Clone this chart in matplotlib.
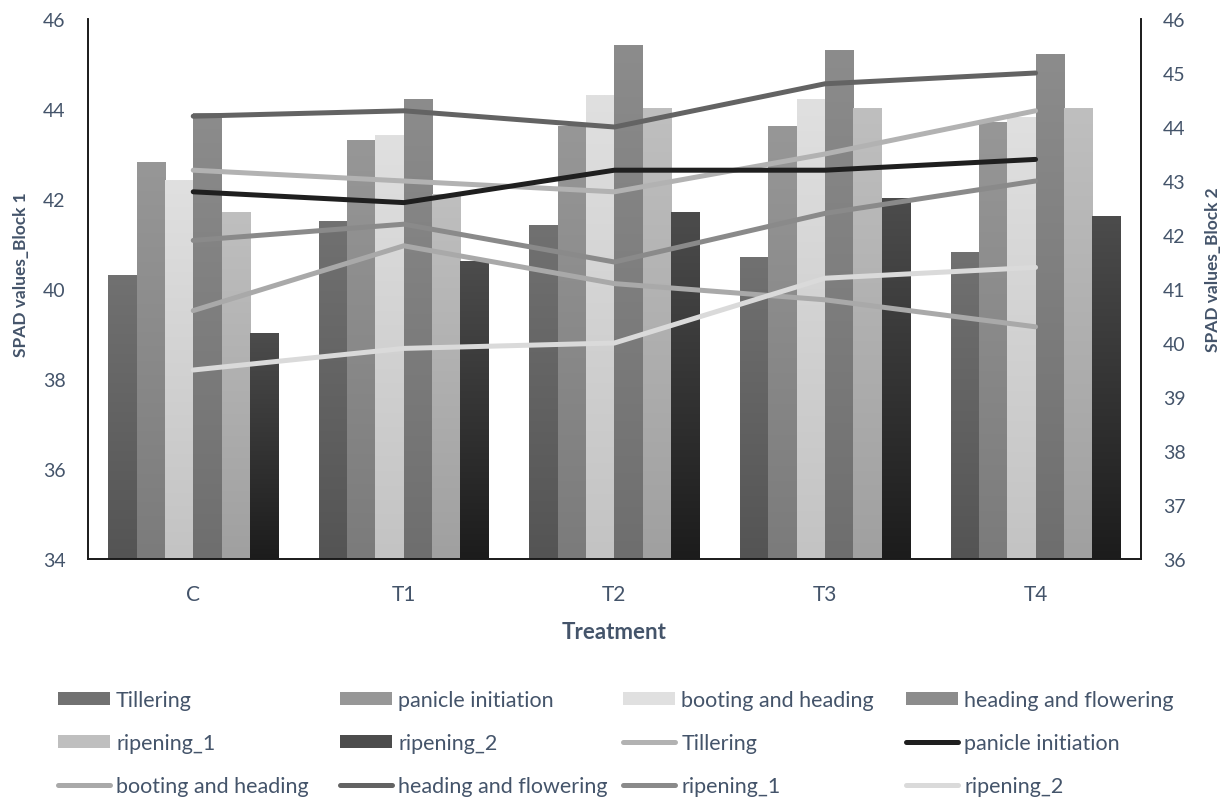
import numpy as np
import matplotlib.pyplot as plt
from matplotlib.colors import LinearSegmentedColormap
from matplotlib.patches import Patch
from matplotlib.lines import Line2D

plt.rcParams['font.family'] = ['Lato', 'DejaVu Sans']

treatments = ['C', 'T1', 'T2', 'T3', 'T4']
stages = ['Tillering', 'panicle initiation', 'booting and heading',
          'heading and flowering', 'ripening_1', 'ripening_2']

# Block 1 (bars, left axis)
tillering_b1 = [40.3, 41.5, 41.4, 40.7, 40.8]
panicle_b1 = [42.8, 43.3, 43.6, 43.6, 43.7]
booting_b1 = [42.4, 43.4, 44.3, 44.2, 43.8]
heading_b1 = [43.9, 44.2, 45.4, 45.3, 45.2]
ripening1_b1 = [41.7, 42.1, 44.0, 44.0, 44.0]
ripening2_b1 = [39.0, 40.6, 41.7, 42.0, 41.6]

# Block 2 (lines, right axis)
tillering_b2 = [43.2, 43.0, 42.8, 43.5, 44.3]
panicle_b2 = [42.8, 42.6, 43.2, 43.2, 43.4]
booting_b2 = [40.6, 41.8, 41.1, 40.8, 40.3]
heading_b2 = [44.2, 44.3, 44.0, 44.8, 45.0]
ripening1_b2 = [41.9, 42.2, 41.5, 42.4, 43.0]
ripening2_b2 = [39.5, 39.9, 40.0, 41.2, 41.4]

block1 = [tillering_b1, panicle_b1, booting_b1, heading_b1, ripening1_b1, ripening2_b1]
block2 = [tillering_b2, panicle_b2, booting_b2, heading_b2, ripening1_b2, ripening2_b2]

# gradient (top, bottom) for each bar series
bar_grad = [('#717171', '#545454'), ('#979797', '#7b7b7b'), ('#e0e0e0', '#c3c3c3'),
            ('#8c8c8c', '#6e6e6e'), ('#bfbfbf', '#a0a0a0'), ('#4c4c4c', '#1c1c1c')]
line_cols = ['#b2b2b2', '#1f1f1f', '#a9a9a9', '#636363', '#8a8a8a', '#dadada']

txt = '#44546a'
y1_lim = (34, 46)
y2_lim = (36, 46)

fig = plt.figure(figsize=(12.3, 8.03), dpi=100)
ax = fig.add_axes([0.0715, 0.3026, 0.856, 0.6725])
ax2 = ax.twinx()

x = np.arange(len(treatments))
bw = 0.1345
for i, vals in enumerate(block1):
    pos = x + (i - 2.5) * bw
    bars = ax.bar(pos, vals, bw, bottom=0, color=bar_grad[i][1], zorder=1)
    cmap = LinearSegmentedColormap.from_list('g%d' % i, [bar_grad[i][1], bar_grad[i][0]])
    for r in bars:
        x0, w, top = r.get_x(), r.get_width(), r.get_height()
        grad = np.linspace(0, 1, 256).reshape(-1, 1)
        ax.imshow(grad, cmap=cmap, origin='lower', aspect='auto',
                  extent=[x0, x0 + w, y1_lim[0], top], zorder=2)

for i, vals in enumerate(block2):
    ax2.plot(x, vals, color=line_cols[i], lw=3.6, solid_capstyle='round',
             solid_joinstyle='miter')

ax.set_xlim(-0.5, len(treatments) - 0.5)
ax.set_ylim(*y1_lim)
ax2.set_ylim(*y2_lim)
ax.set_yticks(np.arange(34, 47, 2))
ax2.set_yticks(np.arange(36, 47, 1))
ax.set_xticks(x)
ax.set_xticklabels(treatments)

for a in (ax, ax2):
    a.tick_params(length=0, labelsize=14, colors=txt)
    a.spines['top'].set_visible(False)
    for s in ('left', 'right', 'bottom'):
        a.spines[s].set_color('#1a1a1a')
        a.spines[s].set_linewidth(1.2)
ax.tick_params(axis='x', pad=18, labelsize=15)
ax.tick_params(axis='y', pad=16)
ax2.tick_params(axis='y', pad=16)

ax.set_xlabel('Treatment', fontsize=16, fontweight='bold', color=txt, labelpad=12)
ax.set_ylabel('SPAD values_Block 1', fontsize=12.5, fontweight='bold', color=txt)
ax2.set_ylabel('SPAD values_Block 2', fontsize=12.5, fontweight='bold', color=txt)
ax.yaxis.set_label_coords(-0.056, 0.528)
ax2.yaxis.set_label_coords(1.0608, 0.537)

# legend: 12 entries laid out row by row in 4 columns
handles = [Patch(facecolor=bar_grad[i][0], label=stages[i]) for i in range(6)]
handles += [Line2D([0], [0], color=line_cols[i], lw=3.6, solid_capstyle='round',
                   label=stages[i]) for i in range(6)]
col_x = [58, 340, 623, 906]
for c in range(4):
    hs = [handles[r * 4 + c] for r in range(3)]
    leg = fig.legend(handles=hs, loc='upper left',
                     bbox_to_anchor=(col_x[c] / 1230, 1 - 691 / 803),
                     frameon=False, fontsize=15.5, handlelength=2.42, handleheight=0.56,
                     handletextpad=0.28, labelspacing=1.08, borderpad=0, borderaxespad=0)
    for t in leg.get_texts():
        t.set_color(txt)

fig.savefig('out.png', dpi=100)
